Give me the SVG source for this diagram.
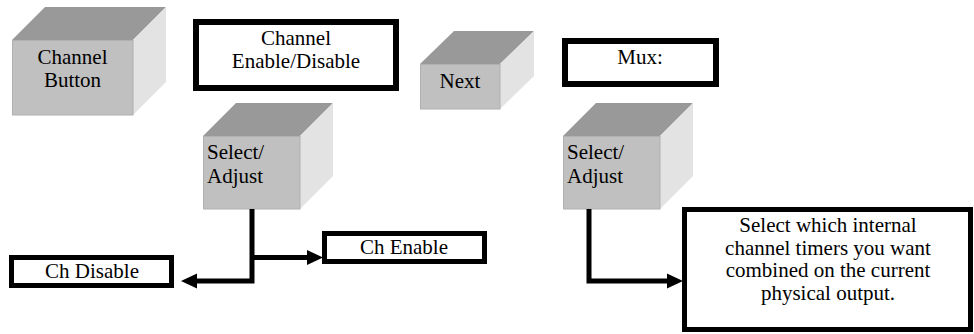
<svg xmlns="http://www.w3.org/2000/svg" width="974" height="334" viewBox="0 0 974 334">
<defs>
<style>
.top{fill:#999999}
.front{fill:#c0c0c0;stroke:#b0b0b0;stroke-width:1}
.side{fill:#e3e3e3}
.box{fill:#ffffff;stroke:#000000}
.t{font-family:'Liberation Serif','Times New Roman',Times,'DejaVu Serif',serif;font-size:21px;fill:#000000}
.c{text-anchor:middle}
.conn{fill:none;stroke:#000000;stroke-width:5;stroke-linejoin:miter}
</style>
<marker id="arrow" markerUnits="userSpaceOnUse" markerWidth="16" markerHeight="15" refX="0" refY="7.5" orient="auto" overflow="visible">
<path d="M0,0 L16,7.5 L0,15 Z" fill="#000000"/>
</marker>
</defs>
<rect width="974" height="334" fill="#ffffff"/>

<g id="channel-button">
<polygon class="top" points="12,40 45,7 166,7 133,40"/>
<polygon class="side" points="133,40 166,7 166,82 133,115"/>
<rect class="front" x="12.5" y="40.5" width="120.5" height="74.5"/>
<text class="t c" x="72.5" y="64" font-family="Liberation Serif, serif">Channel</text>
<text class="t c" x="72.5" y="87" font-family="Liberation Serif, serif">Button</text>
</g>

<g id="channel-enable-disable">
<rect class="box" x="196" y="22" width="200" height="66" stroke-width="6"/>
<text class="t c" x="296" y="45">Channel</text>
<text class="t c" x="296" y="68">Enable/Disable</text>
</g>

<g id="next">
<polygon class="top" points="420,64 454,31 534,31 500,64"/>
<polygon class="side" points="500,64 534,31 534,76 500,109"/>
<rect class="front" x="420.5" y="64.5" width="79.5" height="44.5"/>
<text class="t c" x="460" y="88">Next</text>
</g>

<g id="mux">
<rect class="box" x="565" y="41" width="151" height="43" stroke-width="6"/>
<text class="t c" x="640" y="64">Mux:</text>
</g>

<g id="select-adjust-1">
<polygon class="top" points="203,136 236,103 333,103 300,136"/>
<polygon class="side" points="300,136 333,103 333,176 300,209"/>
<rect class="front" x="203.5" y="136.5" width="96.5" height="72.5"/>
<text class="t" x="207" y="159">Select/</text>
<text class="t" x="207" y="183">Adjust</text>
</g>

<g id="select-adjust-2">
<polygon class="top" points="563,136 596,103 693,103 660,136"/>
<polygon class="side" points="660,136 693,103 693,176 660,209"/>
<rect class="front" x="563.5" y="136.5" width="96.5" height="72.5"/>
<text class="t" x="567" y="159">Select/</text>
<text class="t" x="567" y="183">Adjust</text>
</g>

<g id="ch-enable">
<rect class="box" x="324.5" y="233.5" width="160" height="28" stroke-width="5"/>
<text class="t c" x="404" y="254">Ch Enable</text>
</g>

<g id="ch-disable">
<rect class="box" x="11.5" y="257.5" width="160" height="28" stroke-width="5"/>
<text class="t c" x="92" y="278">Ch Disable</text>
</g>

<g id="mux-description">
<rect class="box" x="684.5" y="209.5" width="286" height="120" stroke-width="5"/>
<text class="t c" x="828" y="232">Select which internal</text>
<text class="t c" x="828" y="254.5">channel timers you want</text>
<text class="t c" x="828" y="277">combined on the current</text>
<text class="t c" x="828" y="299.5">physical output.</text>
</g>

<g id="connectors">
<path class="conn" d="M252,209 V281 H197" marker-end="url(#arrow)"/>
<path class="conn" d="M252,257.5 H307" marker-end="url(#arrow)"/>
<path class="conn" d="M589,209 V281 H667" marker-end="url(#arrow)"/>
</g>
</svg>
